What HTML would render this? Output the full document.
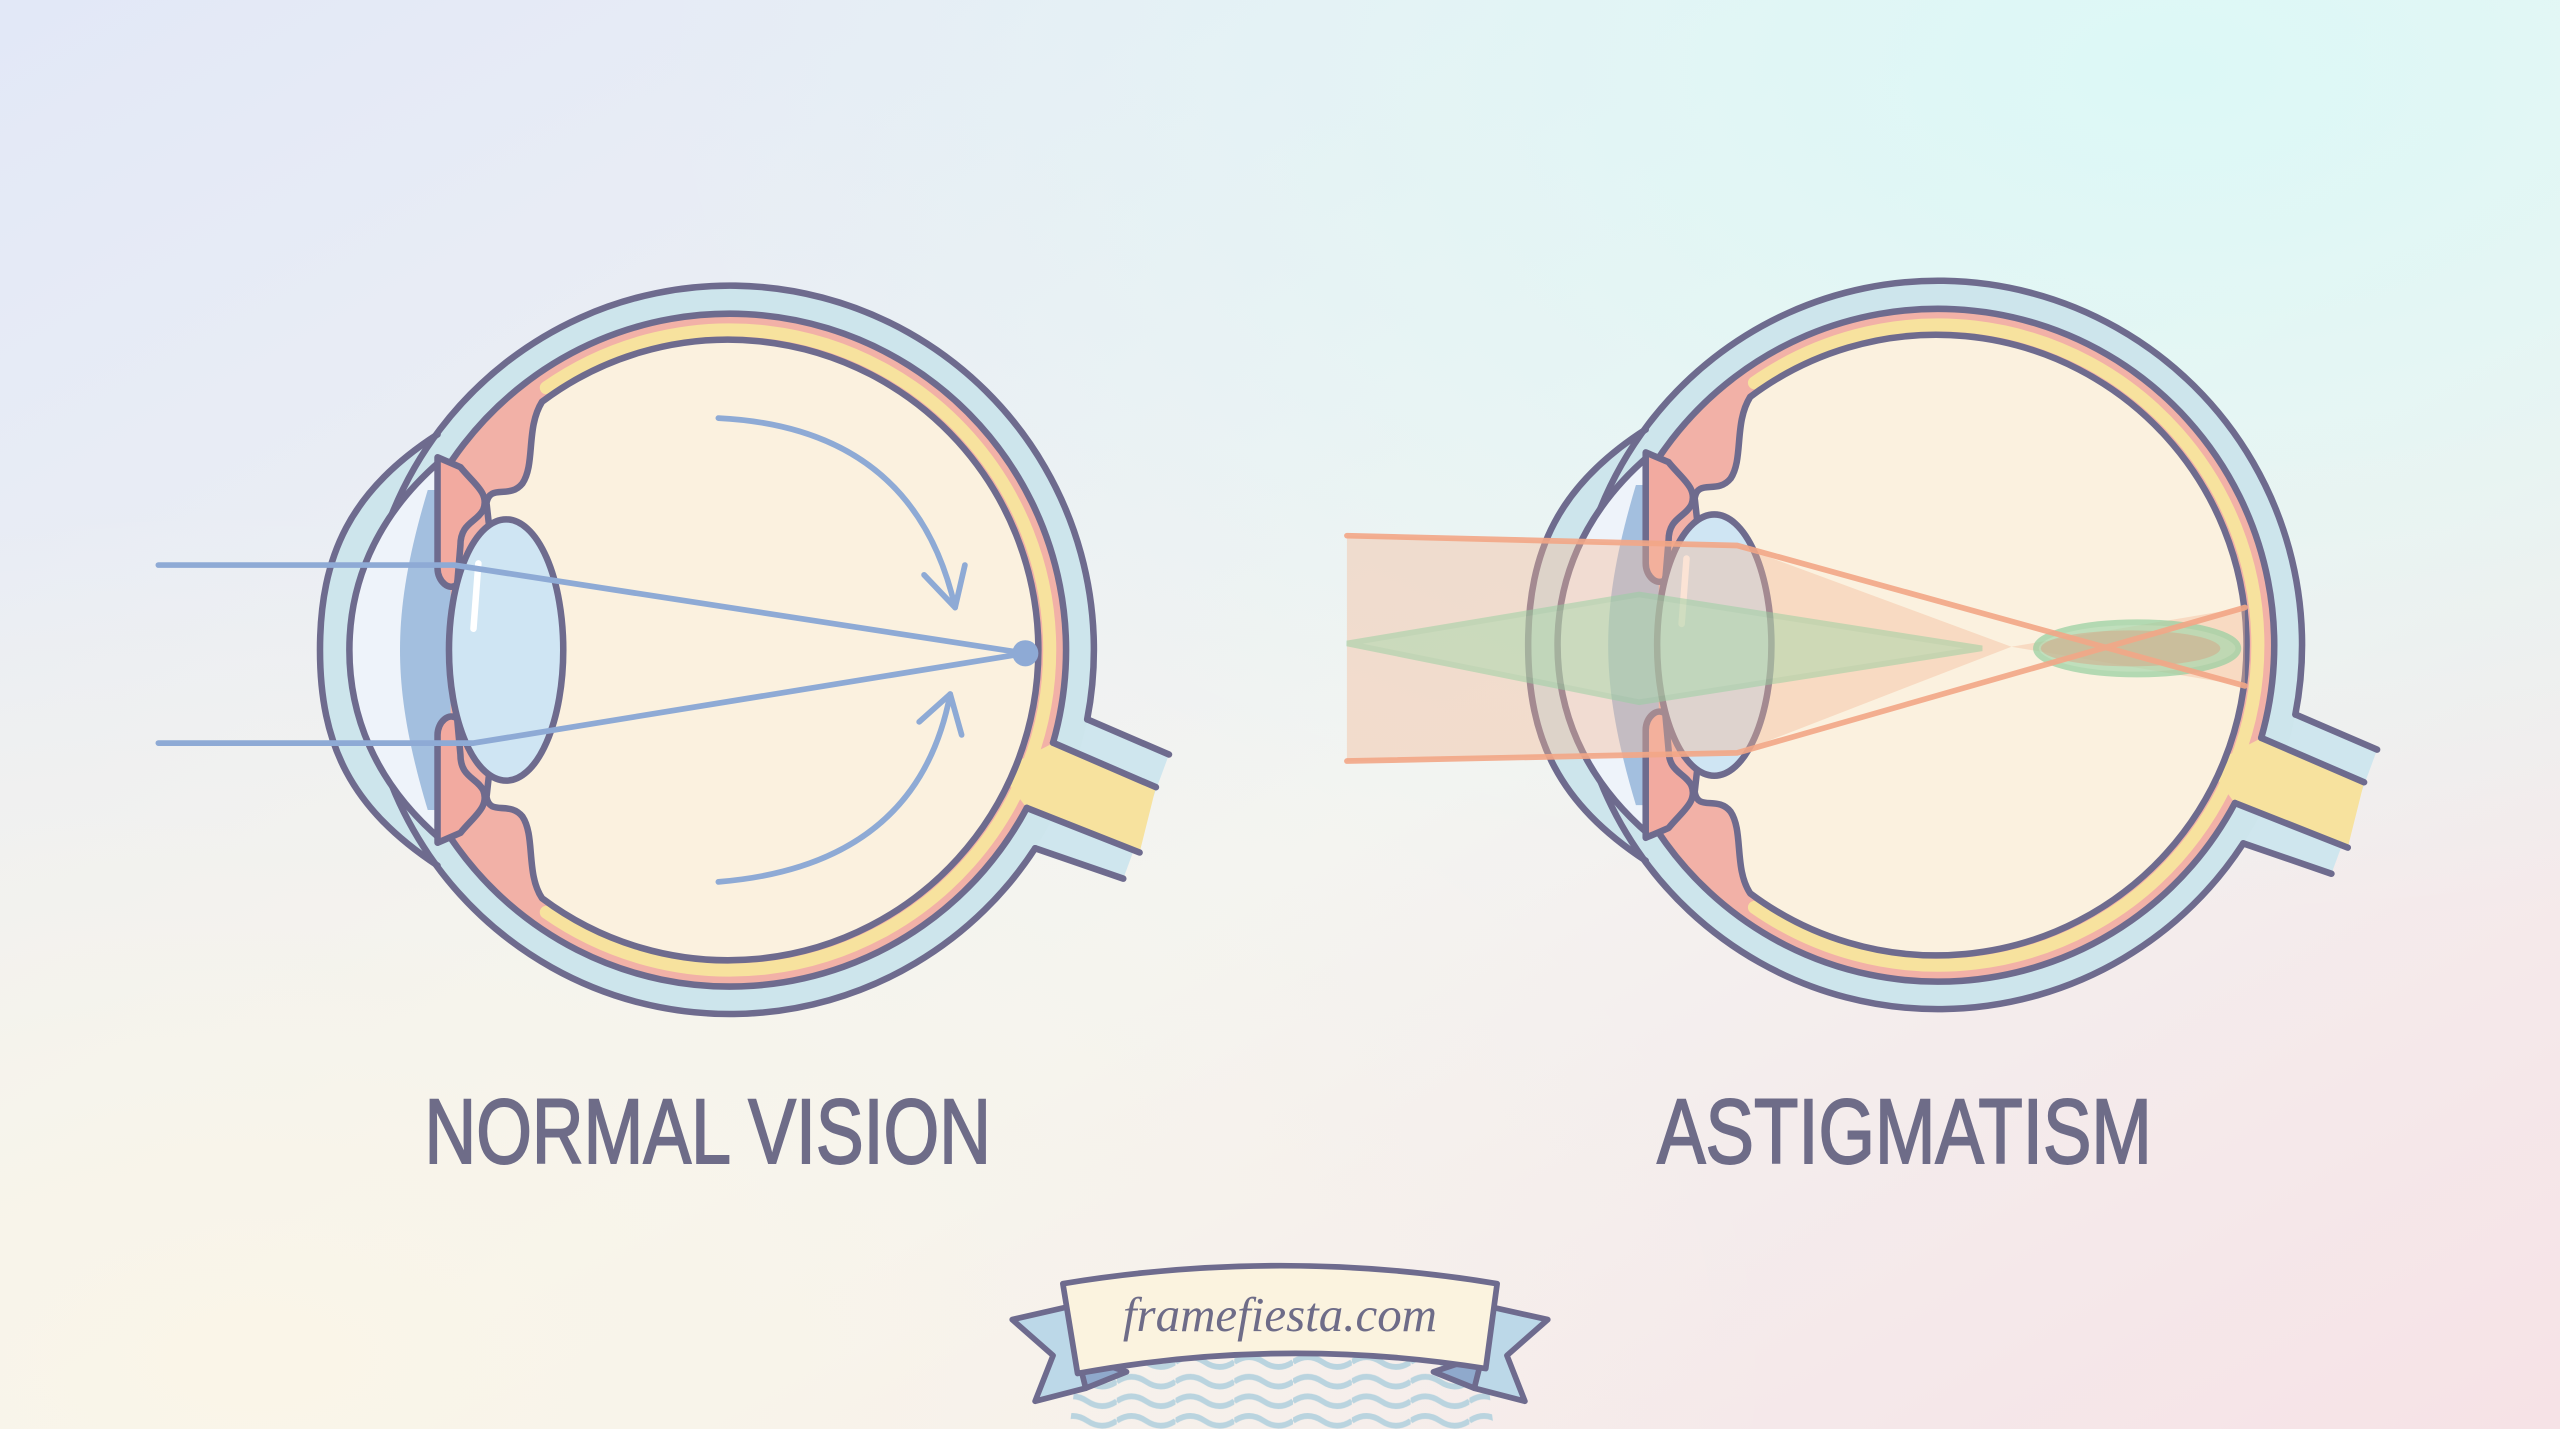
<!DOCTYPE html>
<html><head><meta charset="utf-8"><style>
html,body{margin:0;padding:0;width:2560px;height:1429px;overflow:hidden}
svg{display:block}
</style></head><body>
<svg width="2560" height="1429" viewBox="0 0 1568 875" preserveAspectRatio="none" xmlns="http://www.w3.org/2000/svg">
<defs>
<linearGradient id="bg1" x1="0" y1="0" x2="1" y2="1">
<stop offset="0" stop-color="#e2e8f7"/><stop offset="0.55" stop-color="#f3f4f1"/><stop offset="1" stop-color="#f6e2e6"/>
</linearGradient>
<radialGradient id="bg2" cx="0.85" cy="0.05" r="0.6">
<stop offset="0" stop-color="#dcf8f6" stop-opacity="1"/><stop offset="1" stop-color="#dcf8f6" stop-opacity="0"/>
</radialGradient>
<radialGradient id="bg3" cx="0.1" cy="0.95" r="0.6">
<stop offset="0" stop-color="#faf5e8" stop-opacity="1"/><stop offset="1" stop-color="#faf5e8" stop-opacity="0"/>
</radialGradient>
<pattern id="wave" x="0" y="0" width="36" height="12" patternUnits="userSpaceOnUse">
<path d="M0,6 Q9,0 18,6 T36,6" fill="none" stroke="#b3d1de" stroke-width="3.5"/>
</pattern>
<g id="eye" stroke="#6e6b8e" stroke-width="4" stroke-linejoin="round" stroke-linecap="round">
  <!-- nerve sheath -->
  <path d="M660,436 L716,462 L688,538 L630,516 Z" fill="#cfe6ee" stroke="none"/>
  <!-- globe -->
  <circle cx="447" cy="398" r="223" fill="#cde5ec" stroke="none"/>
  <path d="M268,266 C215,300 196,340 196,398 C196,456 215,495 268,530 L300,530 L300,266 Z" fill="#cde5ec" stroke="none"/>
  <path d="M268,266 C215,300 196,340 196,398 C196,456 215,495 268,530" fill="none"/>
  <circle cx="447" cy="398" r="206" fill="#f2b1a7" stroke="none"/>
  <path d="M334.6,237.4 A196 196 0 1 1 334.6,558.6" fill="none" stroke="#f7e29e" stroke-width="8"/>
  <!-- nerve core -->
  <path d="M645,455 L708,482 L698,522 L629,495 L612,472 Z" fill="#f7e29e" stroke="none"/>
  <path d="M665.9,440.5 A223 223 0 1 0 634,519.4" fill="none"/>
  <path d="M666,440.5 L716,462" fill="none"/>
  <path d="M634,519.4 L688,538" fill="none"/>
  <path d="M645,454.8 A206 206 0 1 0 628.9,494.7" fill="none"/>
  <path d="M645,454.8 L708,482" fill="none"/>
  <path d="M628.9,494.7 L698,522" fill="none"/>
  <!-- front chamber -->
  <path d="M270,282 C228,318 214,360 214,398 C214,436 228,478 270,514 Z" fill="#eef3fa"/>
  <path d="M262,300 C250,340 245,370 245,398 C245,426 250,456 262,496 L276,496 L276,300 Z" fill="#a3bfdf" stroke="none"/>
  <!-- vitreous -->
  <path d="M332,246 A190 190 0 1 1 332,550 C322,535 328,512 320,500 C312,490 300,500 298,488 L300,470 C318,455 322,430 322,398 C322,366 318,340 300,326 L298,308 C300,296 312,306 320,296 C328,284 322,262 332,246 Z" fill="#fbf1df"/>
  <!-- zonule tint -->
  <path d="M300,326 C316,336 322,350 322,370 L306,370 Z" fill="#d9cfdc" stroke="none"/>
  <path d="M300,470 C316,460 322,446 322,426 L306,426 Z" fill="#d9cfdc" stroke="none"/>
  <!-- iris -->
  <path d="M268,280 L282,286 C290,296 300,302 296,312 C292,320 282,320 282,334 L280,358 C275,362 268,356 268,348 Z" fill="#f2aaa0"/>
  <path d="M268,516 L282,510 C290,500 300,494 296,484 C292,476 282,476 282,462 L280,440 C275,436 268,442 268,450 Z" fill="#f2aaa0"/>
  <!-- lens -->
  <ellipse cx="310" cy="398" rx="35" ry="80" fill="#cfe5f3"/>
  <path d="M293,345 L290,385" stroke="#ffffff" stroke-width="4" fill="none"/>
</g>
</defs>

<rect width="1568" height="875" fill="url(#bg1)"/>
<rect width="1568" height="875" fill="url(#bg2)"/>
<rect width="1568" height="875" fill="url(#bg3)"/>

<!-- left eye -->
<use href="#eye"/>
<g stroke="#8eaad5" stroke-width="3.5" fill="none" stroke-linecap="round" stroke-linejoin="round">
  <polyline points="97,346 278,346 628,400"/>
  <polyline points="97,455 290,455 628,400"/>
  <path d="M440,256 Q560,262 585,372"/>
  <path d="M566,352 L585,372 L591,346"/>
  <path d="M440,540 Q562,530 582,425"/>
  <path d="M563,442 L582,425 L589,450"/>
</g>
<circle cx="628" cy="400" r="8" fill="#8eaad5"/>

<!-- right eye -->
<use href="#eye" transform="translate(740,-3)"/>
<g>
  <path d="M825,328 L1064,334 L1232,396 L1064,461 L825,466 Z" fill="#f6b896" opacity="0.4"/>
  <path d="M1232,396 L1375,420 L1375,372 Z" fill="#f6b896" opacity="0.4"/>
  <path d="M825,394 L1004,364 L1214,397 L1004,430 Z" fill="#a6d9ac" opacity="0.5" stroke="#95d0a0" stroke-width="3.5"/>
  <ellipse cx="1309" cy="397" rx="62" ry="16" fill="#a8d8ae" opacity="0.7" stroke="#95d0a0" stroke-width="3.5"/>
  <ellipse cx="1305" cy="397" rx="55" ry="11" fill="#d7a080" opacity="0.45"/>
  <g stroke="#f3a787" stroke-width="3.5" fill="none" stroke-linecap="round" opacity="0.9">
    <polyline points="825,328 1064,334 1375,420"/>
    <polyline points="825,466 1064,461 1375,372"/>
  </g>
</g>

<!-- labels -->
<g font-family="Liberation Sans, DejaVu Sans, sans-serif" font-size="56" fill="#6e6c88" stroke="#6e6c88" stroke-width="1.2">
  <text x="260" y="712" textLength="347" lengthAdjust="spacingAndGlyphs">NORMAL VISION</text>
  <text x="1015" y="712" textLength="303" lengthAdjust="spacingAndGlyphs">ASTIGMATISM</text>
</g>

<!-- banner -->
<path d="M662,818 Q785,806 908,818 L915,875 L655,875 Z" fill="url(#wave)" opacity="0.9"/>
<g stroke="#6e6b8e" stroke-width="3.5" stroke-linejoin="round">
  <path d="M655,800 L620,808 L645,830 L634,858 L665,850 Z" fill="#bcd8e8"/>
  <path d="M660,830 L665,850 L690,840 Z" fill="#8fa9cc"/>
  <path d="M912,800 L948,808 L923,830 L934,858 L903,850 Z" fill="#bcd8e8"/>
  <path d="M908,830 L903,850 L878,840 Z" fill="#8fa9cc"/>
  <path d="M651,786 Q785,764 917,786 L910,838 Q785,818 660,841 Z" fill="#fbf3df"/>
</g>
<text x="784" y="815" text-anchor="middle" font-family="Liberation Serif, DejaVu Serif, serif" font-style="italic" font-size="30" fill="#6e6c88">framefiesta.com</text>
</svg>
</body></html>
